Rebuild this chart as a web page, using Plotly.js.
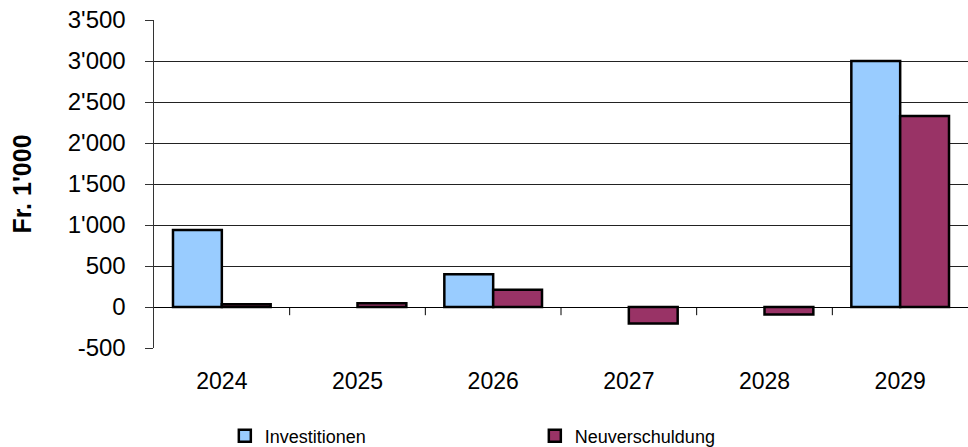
<!DOCTYPE html>
<html><head><meta charset="utf-8">
<script src="https://cdn.plot.ly/plotly-3.0.1.min.js"></script>
<style>body{margin:0;background:#fff}#c{width:968px;height:447px}</style>
</head><body><div id="c"></div>
<script>
const years = ['2024','2025','2026','2027','2028','2029'];
const investitionen = [940, null, 400, null, null, 3000];
const neuverschuldung = [35, 45, 210, -200, -90, 2330];
const yTickVals = [-500, 0, 500, 1000, 1500, 2000, 2500, 3000, 3500];
const yTickText = ['-500', '0', '500', "1'000", "1'500", "2'000", "2'500", "3'000", "3'500"];
const seriesNames = ['Investitionen', 'Neuverschuldung'];

const font = 'Arial, "Liberation Sans", sans-serif';
const traces = [
  {type:'bar', name:seriesNames[0], x:years, y:investitionen,
   marker:{color:'#99CCFF', line:{color:'#000', width:2.5}}},
  {type:'bar', name:seriesNames[1], x:years, y:neuverschuldung,
   marker:{color:'#993366', line:{color:'#000', width:2.5}}}
];
const sepTicks = years.slice(1).map((_, i) => ({
  type:'line', xref:'x', yref:'y', x0:i+0.5, x1:i+0.5, y0:0, y1:-100,
  line:{color:'#000', width:1}, layer:'below'
}));
const layout = {
  width:968, height:447,
  margin:{l:154, r:0, t:20, b:99, autoexpand:false},
  paper_bgcolor:'#fff', plot_bgcolor:'#fff',
  barmode:'group', bargap:0.28, bargroupgap:0,
  showlegend:true,
  font:{family:font, color:'#000'},
  xaxis:{type:'category', showgrid:false, zeroline:false, showline:false,
         ticks:'', tickfont:{size:23, family:font}, ticklabelstandoff:17,
         automargin:false, fixedrange:true},
  yaxis:{range:[-500, 3500], tickvals:yTickVals, ticktext:yTickText,
         showgrid:true, gridcolor:'#222', gridwidth:1,
         zeroline:true, zerolinecolor:'#000', zerolinewidth:1,
         showline:true, linecolor:'#333', linewidth:1.5,
         ticks:'outside', ticklen:8, tickcolor:'#333', automargin:false,
         tickfont:{size:24, family:font}, ticklabelstandoff:14,
         title:{text:"<b>Fr. 1'000</b>", font:{size:25, family:font}, standoff:29}},
  legend:{orientation:'h', x:0.087, xanchor:'left',
          yref:'container', y:0.0246, yanchor:'middle',
          font:{size:18, family:font}, entrywidth:265, entrywidthmode:'pixels',
          traceorder:'normal', bgcolor:'rgba(0,0,0,0)'},
  shapes: sepTicks
};
Plotly.newPlot('c', traces, layout, {displayModeBar:false, staticPlot:true});
</script></body></html>
